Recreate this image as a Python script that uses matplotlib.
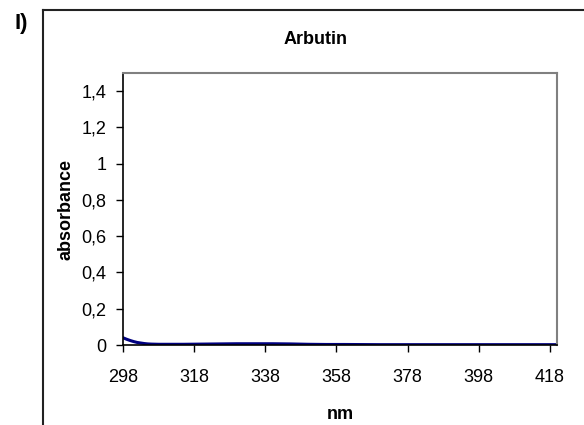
import matplotlib
matplotlib.use("Agg")
import matplotlib.pyplot as plt
from matplotlib.lines import Line2D
from matplotlib.ticker import FixedLocator, FuncFormatter

plt.rcParams['font.family'] = ['Liberation Sans', 'DejaVu Sans']

# absorption spectrum of arbutin
wavelength = [298, 299, 300, 301, 302, 303, 304, 305, 306, 308, 310, 315, 320, 325,
              330, 335, 340, 345, 350, 355, 360, 370, 380, 390, 400, 410, 420]
absorbance = [0.040, 0.032, 0.025, 0.019, 0.014, 0.011, 0.008, 0.006, 0.005, 0.004,
              0.004, 0.004, 0.005, 0.006, 0.007, 0.007, 0.007, 0.006, 0.004, 0.003,
              0.003, 0.002, 0.002, 0.002, 0.002, 0.002, 0.002]
x_ticks = [298, 318, 338, 358, 378, 398, 418]
y_ticks = [0, 0.2, 0.4, 0.6, 0.8, 1.0, 1.2, 1.4]

fig = plt.figure(figsize=(5.84, 4.25), dpi=100)
ax = fig.add_axes([0.2106, 0.1882, 0.7432, 0.64])

ax.plot(wavelength, absorbance, color='#000080', linewidth=2.2)
ax.set_xlim(298, 420)
ax.set_ylim(0, 1.5)

ax.xaxis.set_major_locator(FixedLocator(x_ticks))
ax.yaxis.set_major_locator(FixedLocator(y_ticks))
ax.yaxis.set_major_formatter(FuncFormatter(lambda v, p: f"{v:g}".replace('.', ',')))
ax.tick_params(axis='both', direction='out', length=5, width=1, labelsize=13, color='black')
ax.tick_params(axis='x', pad=12)
ax.tick_params(axis='y', pad=7)

for side in ['left', 'bottom']:
    ax.spines[side].set_color('black')
    ax.spines[side].set_linewidth(1.2)
for side in ['top', 'right']:
    ax.spines[side].set_color('#808080')
    ax.spines[side].set_linewidth(1.5)

ax.set_xlabel('nm', fontsize=13, fontweight='bold', labelpad=15)
ax.set_ylabel('absorbance', fontsize=13, fontweight='bold', labelpad=5)
fig.text(316 / 584, 1 - 40 / 425, 'Arbutin', fontsize=13, fontweight='bold', ha='center', va='center')
fig.text(21 / 584, 1 - 23 / 425, 'I)', fontsize=16, fontweight='bold', ha='center', va='center')

# outer frame
fig.add_artist(Line2D([43 / 584, 43 / 584], [0, 1 - 10 / 425], transform=fig.transFigure,
                      color='#222222', linewidth=1.5))
fig.add_artist(Line2D([43 / 584, 1], [1 - 10 / 425, 1 - 10 / 425], transform=fig.transFigure,
                      color='#222222', linewidth=1.5))

fig.savefig('out.png', dpi=100)
